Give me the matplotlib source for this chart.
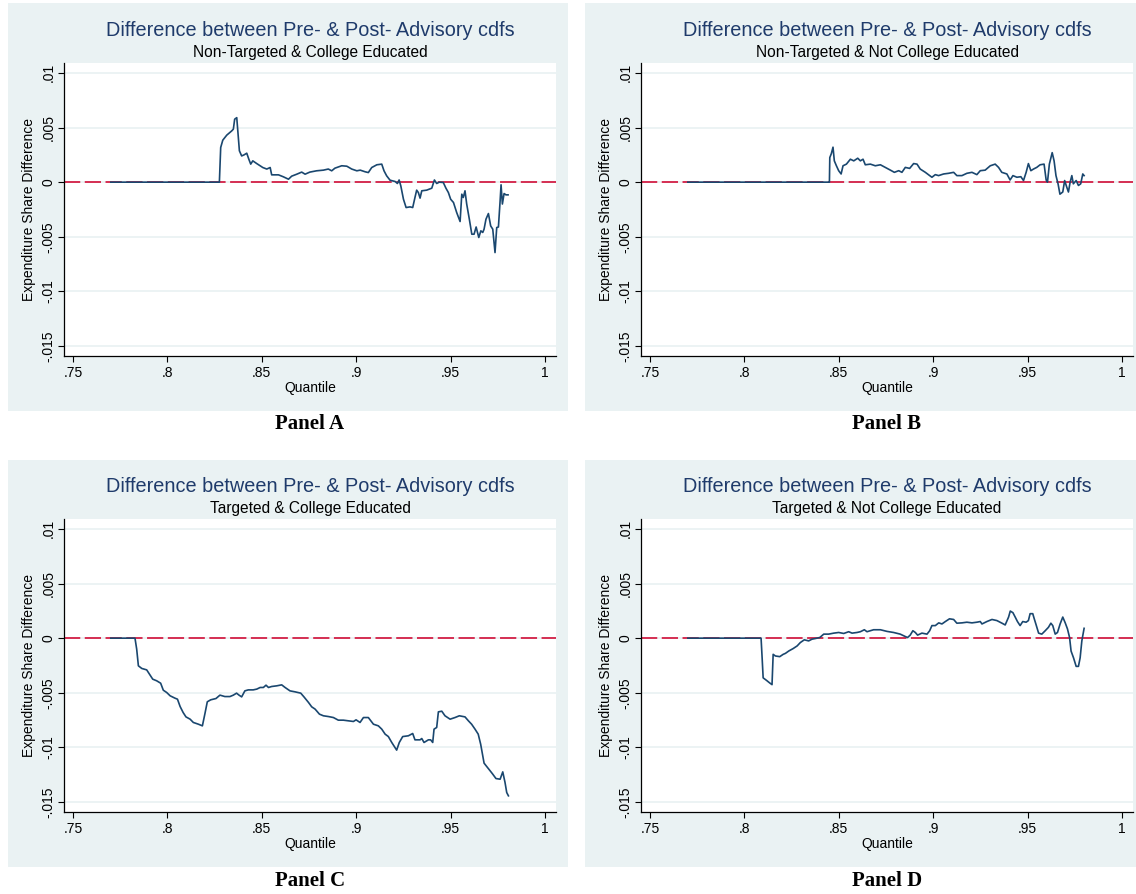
import matplotlib.pyplot as plt
from matplotlib.patches import Rectangle

# Quantile / difference pairs
qa = [0.770, 0.8275, 0.8282, 0.8293, 0.8314, 0.8341, 0.8349, 0.8356, 0.8367, 0.8374, 0.8381, 0.8393,
      0.8406, 0.8420, 0.8431, 0.8441, 0.8452, 0.8473, 0.8505, 0.8526, 0.8544, 0.8552, 0.8588, 0.8614,
      0.8641, 0.8658, 0.8685, 0.8711, 0.8729, 0.8754, 0.8790, 0.8826, 0.8852, 0.8870, 0.8887, 0.8923,
      0.8950, 0.8976, 0.9003, 0.9021, 0.9047, 0.9064, 0.9082, 0.9109, 0.9135, 0.9147, 0.9161, 0.9179,
      0.9206, 0.9218, 0.9227, 0.9236, 0.9250, 0.9264, 0.9285, 0.9299, 0.9311, 0.9320, 0.9329, 0.9338,
      0.9347, 0.9373, 0.9400, 0.9414, 0.9426, 0.9440, 0.9461, 0.9475, 0.9488, 0.9500, 0.9515, 0.9532,
      0.9550, 0.9559, 0.9567, 0.9576, 0.9585, 0.9599, 0.9612, 0.9624, 0.9635, 0.9649, 0.9660, 0.9670,
      0.9677, 0.9687, 0.9700, 0.9712, 0.9723, 0.9735, 0.9744, 0.9753, 0.9762, 0.9767, 0.9774, 0.9783,
      0.9793, 0.9804]
da = [0.0, 0.0, 0.00317, 0.00384, 0.0043, 0.0047, 0.00485, 0.00576, 0.0059, 0.0044, 0.00287, 0.0024,
      0.0025, 0.00265, 0.0021, 0.00165, 0.00195, 0.0017, 0.00134, 0.0012, 0.00134, 0.00067, 0.00067, 0.00049,
      0.00027, 0.00055, 0.00073, 0.00092, 0.00073, 0.00092, 0.00104, 0.0011, 0.0012, 0.00104, 0.00128, 0.0015,
      0.00146, 0.0012, 0.00104, 0.0011, 0.00095, 0.00088, 0.00134, 0.00159, 0.00165, 0.00104, 0.00058, 0.00018,
      0.00006, -0.00012, 0.0002, -0.00034, -0.00156, -0.00232, -0.00226, -0.00232, -0.0014, -0.00073, -0.00095, -0.00146,
      -0.00079, -0.00073, -0.00055, 0.0002, -0.00012, 0.0, -0.00003, -0.00055, -0.00095, -0.00156, -0.00186, -0.00278,
      -0.0036, -0.0011, -0.0014, -0.00079, -0.002, -0.00339, -0.00476, -0.00476, -0.0041, -0.00506, -0.00445, -0.0046,
      -0.0043, -0.00339, -0.00287, -0.004, -0.0043, -0.00644, -0.00415, -0.0041, -0.00171, -0.00024, -0.002, -0.00104,
      -0.00116, -0.00116]

qb = [0.770, 0.8450, 0.8452, 0.8460, 0.8469, 0.8476, 0.8487, 0.8499, 0.8512, 0.8522, 0.8540, 0.8561,
      0.8579, 0.8600, 0.8614, 0.8628, 0.8640, 0.8667, 0.8693, 0.8720, 0.8746, 0.8773, 0.8794, 0.8817,
      0.8834, 0.8852, 0.8875, 0.8896, 0.8914, 0.8931, 0.8958, 0.8981, 0.8993, 0.9011, 0.9028, 0.9055,
      0.9081, 0.9108, 0.9125, 0.9152, 0.9178, 0.9205, 0.9231, 0.9249, 0.9275, 0.9302, 0.9328, 0.9346,
      0.9363, 0.9390, 0.9407, 0.9422, 0.9443, 0.9464, 0.9478, 0.9492, 0.9504, 0.9517, 0.9531, 0.9548,
      0.9566, 0.9587, 0.9598, 0.9605, 0.9615, 0.9630, 0.9640, 0.9650, 0.9661, 0.9671, 0.9686, 0.9696,
      0.9707, 0.9716, 0.9725, 0.9734, 0.9742, 0.9757, 0.9769, 0.9781, 0.9792, 0.9799]
db = [0.0, 0.0, 0.00225, 0.0026, 0.0032, 0.00195, 0.0015, 0.00105, 0.00075, 0.0015, 0.00165, 0.0021,
      0.00195, 0.00219, 0.00195, 0.0021, 0.00159, 0.00165, 0.0015, 0.00159, 0.00135, 0.0011, 0.0009, 0.00105,
      0.0009, 0.00135, 0.00126, 0.0017, 0.00165, 0.0012, 0.0009, 0.0006, 0.00045, 0.00069, 0.0006, 0.00075,
      0.00081, 0.0009, 0.0006, 0.0006, 0.00081, 0.0009, 0.00069, 0.00105, 0.0011, 0.0015, 0.00165, 0.00135,
      0.0009, 0.00075, 0.0002, 0.0006, 0.00045, 0.0005, 0.00015, 0.0009, 0.0017, 0.00105, 0.0012, 0.00135,
      0.00159, 0.00165, 0.0002, 0.0, 0.00165, 0.0027, 0.00195, 0.0006, -0.00015, -0.0011, -0.0009, 0.00015,
      -0.00045, -0.0009, 0.0, 0.0006, -0.00015, 0.00015, -0.0003, -0.00015, 0.00075, 0.0006]

qc = [0.770, 0.7828, 0.7837, 0.7846, 0.7864, 0.7890, 0.7908, 0.7922, 0.7943, 0.7964, 0.7978, 0.7996,
      0.8014, 0.8040, 0.8053, 0.8067, 0.8083, 0.8098, 0.8120, 0.8137, 0.8164, 0.8185, 0.8199, 0.8211,
      0.8229, 0.8243, 0.8257, 0.8278, 0.8304, 0.8331, 0.8349, 0.8366, 0.8379, 0.8393, 0.8410, 0.8428,
      0.8454, 0.8473, 0.8491, 0.8508, 0.8522, 0.8535, 0.8552, 0.8579, 0.8605, 0.8623, 0.8649, 0.8676,
      0.8706, 0.8723, 0.8747, 0.8764, 0.8782, 0.8805, 0.8826, 0.8853, 0.8879, 0.8905, 0.8932, 0.8958,
      0.8985, 0.8999, 0.9020, 0.9038, 0.9064, 0.9091, 0.9117, 0.9135, 0.9153, 0.9170, 0.9188, 0.9214,
      0.9228, 0.9246, 0.9276, 0.9299, 0.9311, 0.9338, 0.9347, 0.9359, 0.9382, 0.9394, 0.9405, 0.9412,
      0.9426, 0.9435, 0.9453, 0.9470, 0.9497, 0.9523, 0.9546, 0.9576, 0.9594, 0.9611, 0.9629, 0.9646,
      0.9659, 0.9677, 0.9691, 0.9709, 0.9723, 0.9740, 0.9762, 0.9776, 0.9788, 0.9797, 0.9806]
dc = [0.0, 0.0, -0.001, -0.00253, -0.00277, -0.0029, -0.00338, -0.00375, -0.0039, -0.00412, -0.00476, -0.00497,
      -0.00527, -0.00549, -0.00558, -0.00625, -0.0068, -0.0072, -0.00741, -0.00771, -0.00787, -0.00802, -0.00686, -0.00582,
      -0.00564, -0.00558, -0.00552, -0.00521, -0.00534, -0.00534, -0.00521, -0.00503, -0.00521, -0.00537, -0.00482, -0.00473,
      -0.00473, -0.00466, -0.00451, -0.00451, -0.0043, -0.00451, -0.00442, -0.00436, -0.00427, -0.00451, -0.00482, -0.00491,
      -0.00503, -0.00537, -0.00588, -0.00628, -0.00649, -0.00695, -0.0071, -0.00717, -0.00726, -0.0075, -0.0075, -0.00756,
      -0.00762, -0.00747, -0.00771, -0.00726, -0.00726, -0.00787, -0.00802, -0.00832, -0.00878, -0.009, -0.00954, -0.01024,
      -0.00954, -0.009, -0.00893, -0.00872, -0.0093, -0.0093, -0.00918, -0.00954, -0.0093, -0.0093, -0.00954, -0.00832,
      -0.00817, -0.00674, -0.00668, -0.0071, -0.00741, -0.00726, -0.0071, -0.0072, -0.00756, -0.00787, -0.00832, -0.00878,
      -0.0097, -0.01143, -0.01174, -0.01213, -0.01244, -0.01284, -0.0129, -0.01223, -0.0132, -0.01412, -0.01442]

qd = [0.770, 0.8088, 0.8094, 0.8099, 0.8116, 0.8134, 0.8146, 0.8152, 0.8164, 0.8187, 0.8205, 0.8217,
      0.8235, 0.8258, 0.8279, 0.8296, 0.8317, 0.8340, 0.8358, 0.8376, 0.8399, 0.8420, 0.8446, 0.8473,
      0.8499, 0.8526, 0.8552, 0.8570, 0.8596, 0.8614, 0.8635, 0.8649, 0.8684, 0.8720, 0.8755, 0.8790,
      0.8825, 0.8852, 0.8864, 0.8878, 0.8892, 0.8905, 0.8917, 0.8940, 0.8967, 0.8981, 0.8993, 0.9011,
      0.9029, 0.9046, 0.9064, 0.9086, 0.9108, 0.9125, 0.9152, 0.9178, 0.9205, 0.9231, 0.9249, 0.9258,
      0.9284, 0.9311, 0.9337, 0.9364, 0.9381, 0.9399, 0.9408, 0.9422, 0.9434, 0.9446, 0.9460, 0.9474,
      0.9492, 0.9504, 0.9513, 0.9527, 0.9535, 0.9545, 0.9558, 0.9575, 0.9593, 0.9610, 0.9623, 0.9633,
      0.9646, 0.9658, 0.9672, 0.9686, 0.9699, 0.9711, 0.9722, 0.9730, 0.9743, 0.9757, 0.9769, 0.9778,
      0.9787, 0.9799]
dd = [0.0, 0.0, -0.00194, -0.00363, -0.00385, -0.0041, -0.00425, -0.00148, -0.00163, -0.00169, -0.00148, -0.00139,
      -0.00117, -0.00095, -0.00071, -0.0004, -0.00015, -0.00025, -0.00009, -0.00003, 0.00006, 0.00037, 0.00037, 0.00046,
      0.00052, 0.00043, 0.00059, 0.00046, 0.00052, 0.00059, 0.00077, 0.00059, 0.00077, 0.00077, 0.00062, 0.00052,
      0.00037, 0.00015, 0.00006, 0.00028, 0.00068, 0.00052, 0.00028, 0.00046, 0.00037, 0.00068, 0.00115, 0.00115,
      0.0014, 0.0013, 0.00152, 0.00177, 0.00171, 0.00137, 0.0014, 0.00146, 0.0014, 0.00146, 0.00152, 0.0013,
      0.00152, 0.00171, 0.00161, 0.00137, 0.00121, 0.00193, 0.00248, 0.00233, 0.00193, 0.00152, 0.00115, 0.00152,
      0.00146, 0.00161, 0.00224, 0.00224, 0.00177, 0.00121, 0.00046, 0.00037, 0.00068, 0.00099, 0.00137, 0.00115,
      0.00037, 0.00052, 0.0013, 0.00193, 0.0014, 0.00084, 0.00006, -0.00118, -0.0018, -0.00258, -0.00258, -0.0018,
      -0.00025, 0.0009]

title = "Difference between Pre- & Post- Advisory cdfs"
subtitles = ["Non-Targeted & College Educated", "Non-Targeted & Not College Educated",
             "Targeted & College Educated", "Targeted & Not College Educated"]
panel_names = ["Panel A", "Panel B", "Panel C", "Panel D"]
xticks = [0.75, 0.8, 0.85, 0.9, 0.95, 1.0]
xticklabels = [".75", ".8", ".85", ".9", ".95", "1"]
yticks = [0.01, 0.005, 0.0, -0.005, -0.01, -0.015]
yticklabels = [".01", ".005", "0", "-.005", "-.01", "-.015"]

W, H = 1136, 894
bg = '#eaf2f3'
navy = '#1a476f'
plt.rcParams['font.family'] = ['Liberation Sans', 'DejaVu Sans']

fig = plt.figure(figsize=(W / 100, H / 100), dpi=100)

def fbox(x0, y0, x1, y1):
    return [x0 / W, 1 - y1 / H, (x1 - x0) / W, (y1 - y0) / H]

# pixel layout: outer box, plot region, panel-label y
boxes = [(8, 3, 568, 411), (585, 3, 1136, 411), (8, 460, 568, 867), (585, 460, 1136, 867)]
plots = [(64, 63, 556, 356), (641, 63, 1133, 356), (64, 519, 556, 812), (641, 519, 1133, 812)]
label_y = [424, 424, 881, 881]
series = [(qa, da), (qb, db), (qc, dc), (qd, dd)]

for i in range(4):
    bx = fbox(*boxes[i])
    fig.patches.append(Rectangle((bx[0], bx[1]), bx[2], bx[3], transform=fig.transFigure,
                                 facecolor=bg, edgecolor='none', zorder=-10))
    ax = fig.add_axes(fbox(*plots[i]))
    ax.set_facecolor('white')
    x, y = series[i]
    ax.axhline(0, color='#d31f45', lw=1.3, dashes=(9, 2.5), zorder=2)
    ax.plot(x, y, color=navy, lw=1.2, zorder=3)
    ax.set_xlim(0.7452, 1.0058)
    ax.set_ylim(-0.0159, 0.0109)
    ax.set_xticks(xticks)
    ax.set_xticklabels(xticklabels, fontsize=10)
    ax.set_yticks(yticks)
    ax.set_yticklabels(yticklabels, fontsize=10, rotation=90, va='center')
    ax.grid(axis='y', color=bg, lw=1.3)
    ax.set_axisbelow(True)
    ax.spines['top'].set_visible(False)
    ax.spines['right'].set_visible(False)
    ax.spines['left'].set_linewidth(0.9)
    ax.spines['bottom'].set_linewidth(0.9)
    ax.tick_params(length=4, width=0.8)
    ax.tick_params(axis='x', pad=3)
    ax.tick_params(axis='y', pad=2)
    ax.set_xlabel("Quantile", fontsize=10, labelpad=1)
    ax.set_ylabel("Expenditure Share Difference", fontsize=10, labelpad=4)

    cx = (plots[i][0] + plots[i][2]) / 2 / W
    ty = plots[i][1]
    fig.text(cx, 1 - (ty - 33) / H, title, ha='center', va='center', fontsize=14.3, color='#1f3b6b')
    fig.text(cx, 1 - (ty - 11) / H, subtitles[i], ha='center', va='center', fontsize=11.2, color='black')
    fig.text(cx, 1 - label_y[i] / H, panel_names[i],
             ha='center', va='center', fontsize=15, fontweight='bold', family='Liberation Serif')

fig.savefig('out.png', dpi=100)
